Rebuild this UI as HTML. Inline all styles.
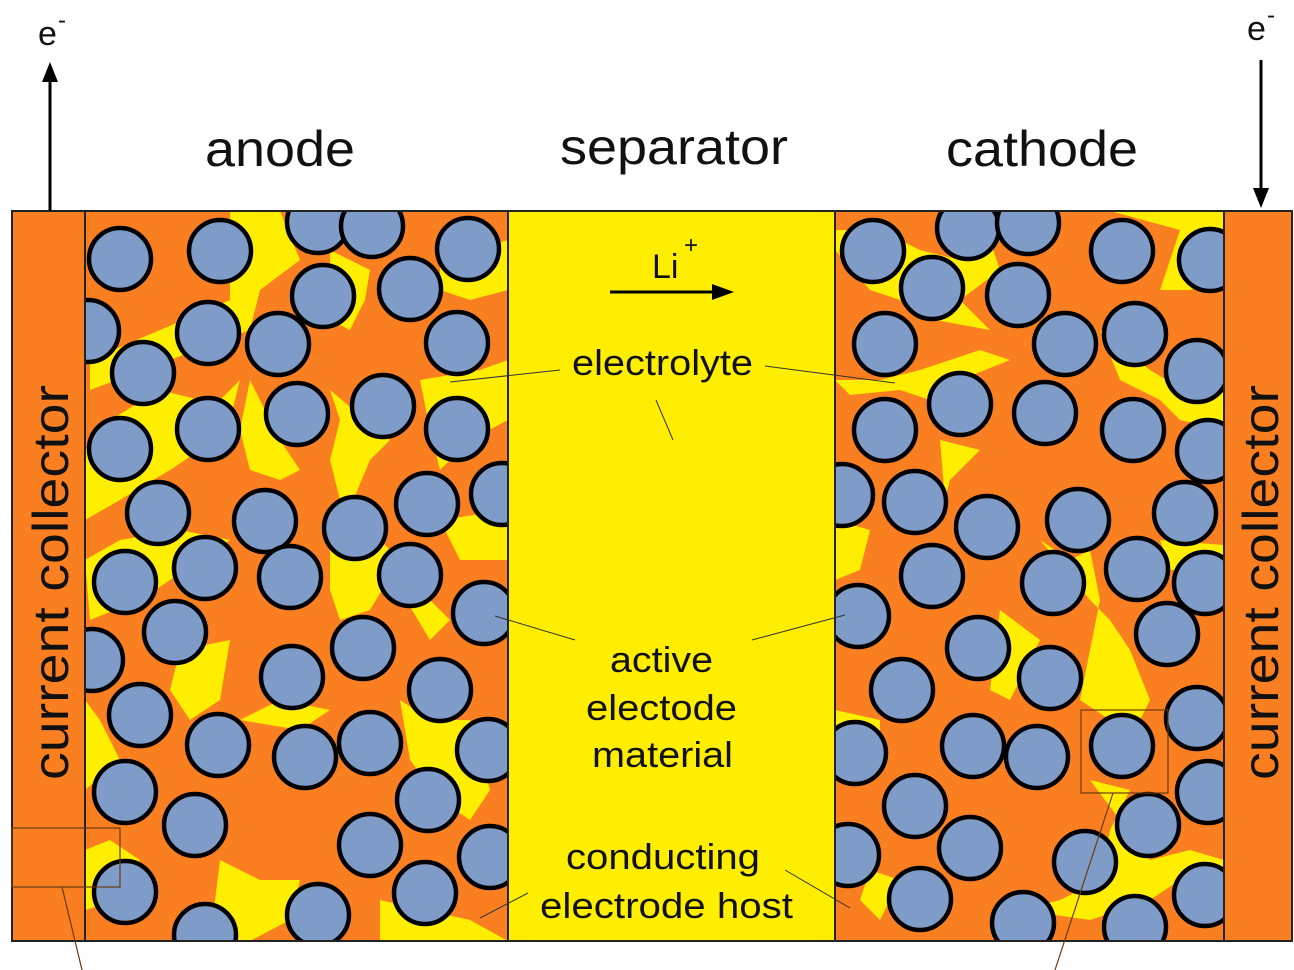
<!DOCTYPE html>
<html><head><meta charset="utf-8"><style>
html,body{margin:0;padding:0;background:#fff;}
svg{display:block;}
text{font-family:"Liberation Sans",Arial,sans-serif;fill:#111;}
</style></head><body>
<svg width="1294" height="970" viewBox="0 0 1294 970" xmlns="http://www.w3.org/2000/svg">
<defs>
<clipPath id="ca"><rect x="85" y="211" width="423" height="730"/></clipPath>
<clipPath id="cc"><rect x="835" y="211" width="389" height="730"/></clipPath>
</defs>
<rect x="12" y="211" width="1280" height="730" fill="#fa7f20"/>
<rect x="508" y="211" width="327" height="730" fill="#ffee00"/>
<g clip-path="url(#ca)">
<g fill="#ffee00">
<path d="M150 211 L230 211 L230 300 L160 330 L90 360 L90 390 L170 360 L250 330 L260 290 L300 260 L280 211Z"/>
<path d="M330 250 L370 270 L365 300 L350 330 L330 320Z"/>
<path d="M440 260 L508 240 L508 290 L470 300 L440 290Z"/>
<path d="M85 450 L110 420 L160 390 L200 400 L230 410 L220 400 L240 380 L230 420 L200 450 L170 470 L120 500 L85 520Z"/>
<path d="M250 380 L240 430 L250 470 L280 480 L300 470 L280 440Z"/>
<path d="M330 390 L340 420 L330 460 L345 520 L370 460 L390 440Z"/>
<path d="M420 380 L480 370 L508 360 L508 420 L470 440 L440 470 L430 430Z"/>
<path d="M85 560 L120 540 L180 530 L230 540 L200 560 L140 600 L90 620Z"/>
<path d="M330 540 L360 520 L400 560 L370 610 L340 620 L330 590Z"/>
<path d="M400 590 L430 600 L450 620 L430 640Z"/>
<path d="M85 700 L100 720 L120 760 L85 790Z"/>
<path d="M180 650 L230 640 L220 700 L190 720 L170 690Z"/>
<path d="M240 720 L280 700 L330 710 L300 730Z"/>
<path d="M400 700 L430 720 L470 720 L490 790 L470 820 L440 800 L410 760Z"/>
<path d="M85 850 L110 840 L140 860 L120 900 L85 910Z"/>
<path d="M220 860 L260 880 L300 880 L290 920 L250 941 L210 941Z"/>
<path d="M380 900 L470 920 L508 941 L380 941Z"/>
<path d="M440 520 L508 510 L508 560 L460 560Z"/>
</g>
<g fill="#7f9cc9" stroke="#000" stroke-width="4.5">
<circle cx="120" cy="259" r="31"/><circle cx="220" cy="251" r="31"/><circle cx="318" cy="222" r="31"/><circle cx="372" cy="226" r="31"/><circle cx="468" cy="249" r="31"/><circle cx="323" cy="296" r="31"/><circle cx="410" cy="289" r="31"/><circle cx="208" cy="333" r="31"/><circle cx="278" cy="344" r="31"/><circle cx="457" cy="343" r="31"/><circle cx="88" cy="331" r="31"/><circle cx="143" cy="373" r="31"/><circle cx="383" cy="406" r="31"/><circle cx="297" cy="414" r="31"/><circle cx="208" cy="429" r="31"/><circle cx="120" cy="449" r="31"/><circle cx="457" cy="429" r="31"/><circle cx="502" cy="494" r="31"/><circle cx="158" cy="513" r="31"/><circle cx="265" cy="521" r="31"/><circle cx="355" cy="528" r="31"/><circle cx="427" cy="504" r="31"/><circle cx="125" cy="582" r="31"/><circle cx="205" cy="568" r="31"/><circle cx="290" cy="577" r="31"/><circle cx="410" cy="575" r="31"/>
<circle cx="484" cy="613" r="31"/><circle cx="175" cy="632" r="31"/><circle cx="363" cy="648" r="31"/><circle cx="92" cy="660" r="31"/><circle cx="140" cy="715" r="31"/><circle cx="292" cy="677" r="31"/><circle cx="440" cy="690" r="31"/><circle cx="218" cy="745" r="31"/><circle cx="305" cy="757" r="31"/><circle cx="370" cy="743" r="31"/><circle cx="488" cy="750" r="31"/><circle cx="125" cy="792" r="31"/><circle cx="428" cy="800" r="31"/><circle cx="195" cy="825" r="31"/><circle cx="370" cy="845" r="31"/><circle cx="490" cy="857" r="31"/><circle cx="125" cy="892" r="31"/><circle cx="425" cy="893" r="31"/><circle cx="318" cy="915" r="31"/><circle cx="205" cy="935" r="31"/>
</g>
</g>
<g clip-path="url(#cc)">
<g fill="#ffee00">
<path d="M835 250 L870 290 L900 300 L935 320 L990 330 L960 300 L1000 270 L990 240 L960 260 L920 250 L880 230 L835 230Z"/>
<path d="M1110 211 L1224 211 L1224 280 L1190 290 L1160 290 L1180 230Z"/>
<path d="M835 380 L880 380 L920 370 L980 350 L1010 360 L960 380 L930 400 L900 390 L850 395Z"/>
<path d="M1100 330 L1150 370 L1200 400 L1224 390 L1224 430 L1180 420 L1160 400 L1120 380Z"/>
<path d="M940 440 L980 450 L950 480 L945 500Z"/>
<path d="M835 520 L870 530 L860 570 L835 580Z"/>
<path d="M1040 540 L1070 560 L1090 550 L1100 600 L1090 650 L1080 700 L1110 720 L1140 720 L1150 700 L1130 650 L1110 620 L1090 600Z"/>
<path d="M1000 610 L1040 640 L1010 700 L990 690Z"/>
<path d="M1160 540 L1224 545 L1224 570 L1170 570Z"/>
<path d="M835 710 L880 720 L880 760 L835 780Z"/>
<path d="M835 830 L870 840 L860 870 L835 880Z"/>
<path d="M1090 780 L1130 790 L1110 830 L1100 880 L1060 900 L1020 910 L1090 920 L1150 900 L1180 880 L1224 880 L1224 860 L1190 850 L1150 860 L1120 820Z"/>
<path d="M870 870 L900 880 L880 920 L860 900Z"/>
</g>
<g fill="#7f9cc9" stroke="#000" stroke-width="4.5">
<circle cx="873" cy="251" r="31"/><circle cx="968" cy="228" r="31"/><circle cx="1028" cy="223" r="31"/><circle cx="1122" cy="251" r="31"/><circle cx="1210" cy="260" r="31"/><circle cx="932" cy="288" r="31"/><circle cx="1018" cy="295" r="31"/><circle cx="885" cy="344" r="31"/><circle cx="1065" cy="344" r="31"/><circle cx="1135" cy="334" r="31"/><circle cx="1197" cy="371" r="31"/><circle cx="960" cy="404" r="31"/><circle cx="1045" cy="413" r="31"/><circle cx="885" cy="430" r="31"/><circle cx="1133" cy="430" r="31"/><circle cx="1208" cy="451" r="31"/><circle cx="842" cy="495" r="31"/><circle cx="915" cy="502" r="31"/><circle cx="987" cy="527" r="31"/><circle cx="1078" cy="520" r="31"/><circle cx="1185" cy="513" r="31"/><circle cx="932" cy="576" r="31"/><circle cx="1053" cy="583" r="31"/><circle cx="1137" cy="569" r="31"/><circle cx="1205" cy="583" r="31"/><circle cx="858" cy="616" r="31"/><circle cx="978" cy="648" r="31"/><circle cx="1167" cy="634" r="31"/><circle cx="902" cy="690" r="31"/><circle cx="1050" cy="678" r="31"/><circle cx="1197" cy="718" r="31"/><circle cx="855" cy="753" r="31"/><circle cx="973" cy="746" r="31"/><circle cx="1037" cy="757" r="31"/><circle cx="1122" cy="746" r="31"/><circle cx="1208" cy="792" r="31"/><circle cx="915" cy="806" r="31"/><circle cx="1148" cy="825" r="31"/><circle cx="970" cy="848" r="31"/><circle cx="848" cy="855" r="31"/><circle cx="1085" cy="862" r="31"/><circle cx="1205" cy="895" r="31"/><circle cx="920" cy="899" r="31"/><circle cx="1023" cy="923" r="31"/><circle cx="1135" cy="927" r="31"/>
</g>
</g>
<g fill="none" stroke="#222" stroke-width="2">
<rect x="12" y="211" width="1280" height="730"/>
<line x1="85" y1="211" x2="85" y2="941"/><line x1="508" y1="211" x2="508" y2="941"/>
<line x1="835" y1="211" x2="835" y2="941"/><line x1="1224" y1="211" x2="1224" y2="941"/>
</g>
<g fill="none" stroke="#6b3a10" stroke-width="1.2">
<rect x="12" y="828" width="108" height="59"/>
<rect x="1081" y="710" width="87" height="83"/>
<line x1="62" y1="887" x2="82" y2="970"/>
<line x1="1113" y1="793" x2="1055" y2="970"/>
</g>
<g stroke="#333" stroke-width="1">
<line x1="450" y1="382" x2="560" y2="370"/>
<line x1="765" y1="366" x2="895" y2="383"/>
<line x1="656" y1="400" x2="673" y2="440"/>
<line x1="495" y1="616" x2="575" y2="640"/>
<line x1="752" y1="640" x2="845" y2="615"/>
<line x1="480" y1="918" x2="528" y2="893"/>
<line x1="785" y1="870" x2="850" y2="908"/>
</g>
<g stroke="#000" stroke-width="3" fill="#000">
<line x1="50" y1="211" x2="50" y2="80"/><path d="M42 82 L50 62 L58 82Z" stroke="none"/>
<line x1="1261" y1="60" x2="1261" y2="190"/><path d="M1253 188 L1261 208 L1269 188Z" stroke="none"/>
<line x1="610" y1="292" x2="715" y2="292"/><path d="M712 284 L734 292 L712 300Z" stroke="none"/>
</g>
<text x="38" y="45" font-size="34">e</text><text x="58" y="28" font-size="24">-</text>
<text x="1247" y="40" font-size="34">e</text><text x="1267" y="23" font-size="24">-</text>
<text x="205" y="166" font-size="50" textLength="150" lengthAdjust="spacingAndGlyphs">anode</text>
<text x="560" y="164" font-size="50" textLength="228" lengthAdjust="spacingAndGlyphs">separator</text>
<text x="946" y="166" font-size="50" textLength="192" lengthAdjust="spacingAndGlyphs">cathode</text>
<text x="652" y="278" font-size="34">Li</text><text x="684" y="253" font-size="24">+</text>
<text x="572" y="375" font-size="36" textLength="181" lengthAdjust="spacingAndGlyphs">electrolyte</text>
<text x="610" y="672" font-size="36" textLength="103" lengthAdjust="spacingAndGlyphs">active</text>
<text x="586" y="720" font-size="36" textLength="151" lengthAdjust="spacingAndGlyphs">electode</text>
<text x="592" y="767" font-size="36" textLength="141" lengthAdjust="spacingAndGlyphs">material</text>
<text x="566" y="869" font-size="36" textLength="194" lengthAdjust="spacingAndGlyphs">conducting</text>
<text x="540" y="918" font-size="36" textLength="253" lengthAdjust="spacingAndGlyphs">electrode host</text>
<text transform="translate(68,780) rotate(-90)" font-size="50" textLength="395" lengthAdjust="spacingAndGlyphs">current collector</text>
<text transform="translate(1278,780) rotate(-90)" font-size="50" textLength="395" lengthAdjust="spacingAndGlyphs">current collector</text>
</svg>
</body></html>
